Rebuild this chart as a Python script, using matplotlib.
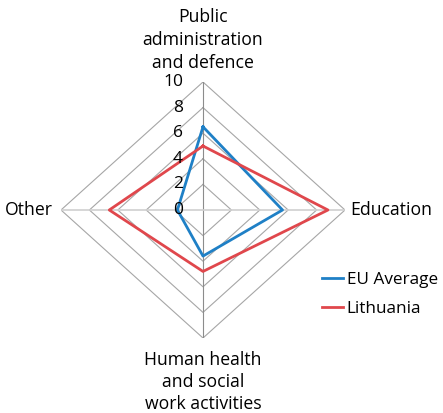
import numpy as np
import matplotlib.pyplot as plt

categories = ["Public\nadministration\nand defence", "Education",
              "Human health\nand social\nwork activities", "Other"]
eu_average = [6.5, 5.6, 3.6, 1.8]
lithuania = [5.0, 8.8, 4.8, 6.6]
ticks = [0, 2, 4, 6, 8, 10]

plt.rcParams['font.family'] = ['Open Sans', 'DejaVu Sans']

W, H = 443, 413
fig = plt.figure(figsize=(W / 100, H / 100), dpi=100)
# radial scale: x radius 10 spans 142 px, y radius 10 spans 128 px, centre (203, 210)
cx, cy, rx, ry = 203, 210, 142, 128
ax = fig.add_axes([(cx - rx) / W, (H - cy - ry) / H, 2 * rx / W, 2 * ry / H])
ax.set_xlim(-10, 10)
ax.set_ylim(-10, 10)
ax.axis('off')

# angles: top, right, bottom, left
ang = np.array([90, 0, -90, 180]) * np.pi / 180


def to_xy(vals):
    v = np.asarray(vals, dtype=float)
    x = v * np.cos(ang)
    y = v * np.sin(ang)
    return np.append(x, x[0]), np.append(y, y[0])


# grid rings
for t in ticks[1:]:
    gx, gy = to_xy([t] * 4)
    ax.plot(gx, gy, color='#a6a6a6', lw=0.8, zorder=1)

# spokes
ax.plot([0, 0], [-10, 10], color='#8c8c8c', lw=0.8, zorder=1)
ax.plot([-10, 10], [0, 0], color='#d0d0d0', lw=1.2, zorder=1)

bx, by = to_xy(eu_average)
ax.plot(bx, by, color='#1f80c6', lw=2, zorder=3, label='EU Average')
lx, ly = to_xy(lithuania)
ax.plot(lx, ly, color='#e0474c', lw=2, zorder=3, label='Lithuania')

# tick labels along top spoke
for t in ticks:
    ax.text(-1.4, t, str(t), ha='right', va='center', fontsize=12.5, zorder=4)

# category labels
ax.text(0, 10.75, categories[0], ha='center', va='bottom', fontsize=12.7, linespacing=1.38)
ax.text(10.4, 0, categories[1], ha='left', va='center', fontsize=12.7)
ax.text(0, -11.0, categories[2], ha='center', va='top', fontsize=12.7, linespacing=1.3)
ax.text(-10.6, 0, categories[3], ha='right', va='center', fontsize=12.7)

fig.legend(loc='upper left', bbox_to_anchor=(322 / W, 1 - 272 / H), frameon=False,
           fontsize=12.3, handlelength=1.2, handletextpad=0.25, labelspacing=0.75,
           borderpad=0, borderaxespad=0)

fig.savefig('out.png', dpi=100)
